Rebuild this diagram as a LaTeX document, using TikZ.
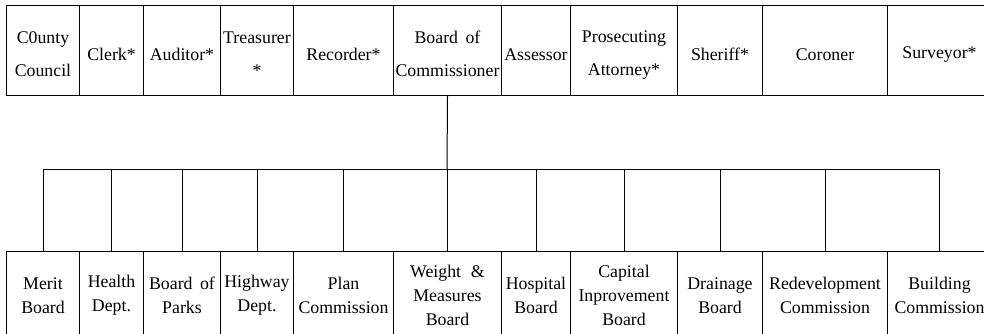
\documentclass[tikz,border=0pt]{standalone}
\usepackage{fontspec}
\setmainfont{Liberation Serif}
\tikzset{topcell/.style={draw, line width=1pt, anchor=north west, inner xsep=0pt, inner ysep=0pt,
  text width=#1, minimum height=90pt, align=center, font=\fontsize{17.8}{33}\selectfont,
  execute at begin node=\rule{0pt}{20pt}},
%bottom row has tighter lines
botcell/.style={draw, line width=1pt, anchor=north west, inner xsep=0pt, inner ysep=0pt,
  text width=#1, minimum height=88pt, align=center, font=\fontsize{17.8}{24}\selectfont}}

\begin{document}
\begin{tikzpicture}[x=1pt, y=-1pt]
\useasboundingbox (0,0) rectangle (984,334);
% elected offices
\node[topcell=73pt] (council) at (6,5) {C0unty\\Council};
\node[topcell=64pt] (clerk) at (79,5) {Clerk*};
\node[topcell=77pt] (auditor) at (143,5) {Auditor*};
\node[topcell=73pt] (treasurer) at (220,5) {Treasurer\\{*}};
\node[topcell=100pt] (recorder) at (293,5) {Recorder*};
\node[topcell=108pt] (commish) at (393,5) {Board\hspace{0.42em}of\\Commissioner};
\node[topcell=69pt] (assessor) at (501,5) {Assessor};
\node[topcell=107pt] (prosecutor) at (570,5) {Prosecuting\\Attorney*};
\node[topcell=85pt] (sheriff) at (677,5) {Sheriff*};
\node[topcell=125pt] (coroner) at (762,5) {Coroner};
\node[topcell=104pt] (surveyor) at (887,5) {Surveyor*};
% boards under the commissioners
\node[botcell=73pt] (merit) at (6,251) {Merit\\Board};
\node[botcell=64pt] (health) at (79,251) {Health\\Dept.};
\node[botcell=77pt] (parks) at (143,251) {Board\hspace{0.42em}of\\Parks};
\node[botcell=73pt] (highway) at (220,251) {Highway\\Dept.};
\node[botcell=100pt] (plan) at (293,251) {Plan\\Commission};
\node[botcell=108pt] (weights) at (393,251) {Weight\hspace{0.55em}\&\\Measures\\Board};
\node[botcell=69pt] (hospital) at (501,251) {Hospital\\Board};
\node[botcell=107pt] (capital) at (570,251) {Capital\\Inprovement\\Board};
\node[botcell=85pt] (drainage) at (677,251) {Drainage\\Board};
\node[botcell=125pt] (redev) at (762,251) {Redevelopment\\Commission};
\node[botcell=104pt] (building) at (887,251) {Building\\Commission};
% connectors
\coordinate (bus) at (447,169);
\draw[line width=1pt] (commish.south) -- (bus);
\foreach \n in {merit,health,parks,highway,plan,weights,hospital,capital,drainage,redev,building}
  \draw[line width=1pt] (\n.north) |- (bus);
\end{tikzpicture}
\end{document}
